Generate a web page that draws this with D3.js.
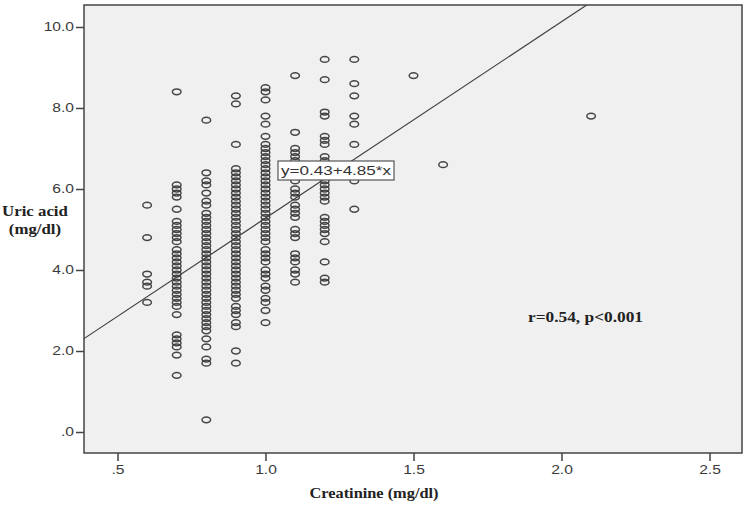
<!DOCTYPE html>
<html>
<head>
<meta charset="utf-8">
<script src="https://cdn.jsdelivr.net/npm/d3@7"></script>
<style>
  html, body { margin: 0; padding: 0; background: #ffffff; }
  svg { display: block; }
</style>
</head>
<body>
<svg id="chart" width="750" height="514"></svg>
<script>
// ---- data ----
const creatinineLevels = [0.6, 0.7, 0.8, 0.9, 1.0, 1.1, 1.2, 1.3, 1.5, 1.6, 2.1];
const uricAcid06 = [5.6, 4.8, 3.9, 3.7, 3.6, 3.2];
const uricAcid07 = [8.4, 6.1, 6.0, 5.9, 5.8, 5.5, 5.2, 5.1, 5.0, 4.9, 4.8, 4.7, 4.5, 4.4, 4.3, 4.2, 4.1, 4.0, 3.9, 3.8, 3.7, 3.6, 3.5, 3.4, 3.3, 3.2, 3.1, 2.9, 2.4, 2.3, 2.2, 2.1, 1.9, 1.4];
const uricAcid08 = [7.7, 6.4, 6.2, 6.1, 5.9, 5.7, 5.6, 5.4, 5.3, 5.2, 5.1, 5.0, 4.9, 4.8, 4.7, 4.6, 4.5, 4.4, 4.3, 4.2, 4.1, 4.0, 3.9, 3.8, 3.7, 3.6, 3.5, 3.4, 3.3, 3.2, 3.1, 3.0, 2.9, 2.8, 2.7, 2.6, 2.5, 2.3, 2.1, 1.8, 1.7, 0.3];
const uricAcid09 = [8.3, 8.1, 7.1, 6.5, 6.4, 6.3, 6.2, 6.1, 6.0, 5.9, 5.8, 5.7, 5.6, 5.5, 5.4, 5.3, 5.2, 5.1, 5.0, 4.9, 4.8, 4.7, 4.6, 4.5, 4.4, 4.3, 4.2, 4.1, 4.0, 3.9, 3.8, 3.7, 3.6, 3.5, 3.4, 3.3, 3.1, 3.0, 2.9, 2.7, 2.6, 2.0, 1.7];
const uricAcid10 = [8.5, 8.4, 8.2, 7.8, 7.6, 7.3, 7.1, 7.0, 6.9, 6.8, 6.7, 6.6, 6.5, 6.4, 6.3, 6.2, 6.1, 6.0, 5.9, 5.8, 5.7, 5.6, 5.5, 5.4, 5.3, 5.2, 5.1, 5.0, 4.9, 4.8, 4.7, 4.5, 4.4, 4.3, 4.2, 4.0, 3.9, 3.8, 3.6, 3.5, 3.3, 3.2, 3.0, 2.7];
const uricAcid11 = [8.8, 7.4, 7.0, 6.9, 6.8, 6.7, 6.6, 6.5, 6.2, 6.0, 5.9, 5.8, 5.6, 5.5, 5.4, 5.3, 5.0, 4.9, 4.8, 4.4, 4.3, 4.2, 4.0, 3.9, 3.7];
const uricAcid12 = [9.2, 8.7, 7.9, 7.8, 7.3, 7.2, 7.1, 6.8, 6.7, 6.6, 6.2, 6.1, 6.0, 5.9, 5.8, 5.7, 5.3, 5.2, 5.1, 5.0, 4.9, 4.7, 4.2, 3.8, 3.7];
const uricAcid13 = [9.2, 8.6, 8.3, 7.8, 7.6, 7.1, 6.4, 6.2, 5.5];
const uricAcid15 = [8.8];
const uricAcid16 = [6.6];
const uricAcid21 = [7.8];
const uricAcidByLevel = [uricAcid06, uricAcid07, uricAcid08, uricAcid09, uricAcid10, uricAcid11, uricAcid12, uricAcid13, uricAcid15, uricAcid16, uricAcid21];

const xTickValues = [0.5, 1.0, 1.5, 2.0, 2.5];
const yTickValues = [0, 2, 4, 6, 8, 10];
const fitIntercept = 0.43;
const fitSlope = 4.85;
const fitLabel = "y=0.43+4.85*x";
const statLabel = "r=0.54, p<0.001";
const xTitle = "Creatinine (mg/dl)";
const yTitleLines = ["Uric acid", "(mg/dl)"];

// ---- build points ----
const points = [];
creatinineLevels.forEach((c, i) => {
  uricAcidByLevel[i].forEach(u => points.push({ x: c, y: u }));
});

// ---- layout ----
const svg = d3.select("#chart");
const plot = { left: 84, right: 742, top: 5, bottom: 453 };

const x = d3.scaleLinear().domain([0.3868, 2.6098]).range([plot.left, plot.right]);
const y = d3.scaleLinear().domain([-0.5185, 10.543]).range([plot.bottom, plot.top]);

const fmt = v => {
  const s = d3.format(".1f")(v);
  return s.startsWith("0") ? s.slice(1) : s;
};

// horizontally stretch a text selection (the reference image is stretched horizontally)
function stretch(sel, factor) {
  sel.each(function() {
    const w = this.getComputedTextLength();
    d3.select(this).attr("textLength", w * factor).attr("lengthAdjust", "spacingAndGlyphs");
  });
}

// plot background
svg.append("rect")
  .attr("x", plot.left).attr("y", plot.top)
  .attr("width", plot.right - plot.left).attr("height", plot.bottom - plot.top)
  .attr("fill", "#f0f0f0");

// clip
svg.append("defs").append("clipPath").attr("id", "clip")
  .append("rect")
  .attr("x", plot.left).attr("y", plot.top)
  .attr("width", plot.right - plot.left).attr("height", plot.bottom - plot.top);

const g = svg.append("g").attr("clip-path", "url(#clip)");

// points
g.selectAll("ellipse.pt").data(points).join("ellipse")
  .attr("class", "pt")
  .attr("cx", d => x(d.x))
  .attr("cy", d => y(d.y))
  .attr("rx", 4.3)
  .attr("ry", 2.9)
  .attr("fill", "none")
  .attr("stroke", "#333")
  .attr("stroke-opacity", 0.9)
  .attr("stroke-width", 1.5);

// fit line
const xd = x.domain();
const yTop = y.domain()[1];
const xEnd = Math.min(xd[1], (yTop - fitIntercept) / fitSlope);
g.append("line")
  .attr("x1", x(xd[0])).attr("y1", y(fitIntercept + fitSlope * xd[0]))
  .attr("x2", x(xEnd)).attr("y2", y(fitIntercept + fitSlope * xEnd))
  .attr("stroke", "#404040")
  .attr("stroke-width", 1.2);

// fit label box
const lblX = 278, lblY = 161;
const lblG = svg.append("g");
const lblText = lblG.append("text")
  .attr("x", lblX + 3).attr("y", lblY + 14)
  .attr("font-family", "Liberation Sans, Arial, sans-serif")
  .attr("font-size", 13.5)
  .attr("fill", "#333")
  .text(fitLabel);
lblText.attr("textLength", 110).attr("lengthAdjust", "spacingAndGlyphs");
lblG.insert("rect", "text")
  .attr("x", lblX).attr("y", lblY)
  .attr("width", 116).attr("height", 19)
  .attr("fill", "#ffffff")
  .attr("stroke", "#555")
  .attr("stroke-width", 1.2);

// frame
svg.append("rect")
  .attr("x", plot.left).attr("y", plot.top)
  .attr("width", plot.right - plot.left).attr("height", plot.bottom - plot.top)
  .attr("fill", "none")
  .attr("stroke", "#444")
  .attr("stroke-width", 1.5);

// axes
const yAxis = d3.axisLeft(y).tickValues(yTickValues).tickFormat(fmt).tickSize(8).tickSizeOuter(0).tickPadding(2);
const yg = svg.append("g").attr("transform", `translate(${plot.left},0)`).call(yAxis);
yg.select(".domain").remove();

const xAxis = d3.axisBottom(x).tickValues(xTickValues).tickFormat(fmt).tickSize(8).tickSizeOuter(0).tickPadding(4);
const xg = svg.append("g").attr("transform", `translate(0,${plot.bottom})`).call(xAxis);
xg.select(".domain").remove();

[yg, xg].forEach(a => {
  a.selectAll(".tick line").attr("stroke", "#444").attr("stroke-width", 1.5);
  a.selectAll(".tick text")
    .attr("font-family", "Liberation Sans, Arial, sans-serif")
    .attr("font-size", 12)
    .attr("fill", "#3a3a3a");
  stretch(a.selectAll(".tick text"), 1.3);
});

// titles
svg.append("text")
  .attr("x", 374).attr("y", 498)
  .attr("text-anchor", "middle")
  .attr("font-family", "Liberation Serif, Times New Roman, serif")
  .attr("font-weight", "bold")
  .attr("font-size", 15)
  .attr("fill", "#222")
  .attr("textLength", 129).attr("lengthAdjust", "spacingAndGlyphs")
  .text(xTitle);

const yTitle = svg.append("text")
  .attr("x", 35).attr("y", 216)
  .attr("text-anchor", "middle")
  .attr("font-family", "Liberation Serif, Times New Roman, serif")
  .attr("font-weight", "bold")
  .attr("font-size", 15)
  .attr("fill", "#222");
yTitle.selectAll("tspan").data(yTitleLines).join("tspan")
  .attr("x", 35)
  .attr("y", (d, i) => 216 + i * 18)
  .text(d => d);
stretch(yTitle.selectAll("tspan"), 1.12);

svg.append("text")
  .attr("x", 528).attr("y", 322)
  .attr("font-family", "Liberation Serif, Times New Roman, serif")
  .attr("font-weight", "bold")
  .attr("font-size", 15)
  .attr("fill", "#222")
  .attr("textLength", 115).attr("lengthAdjust", "spacingAndGlyphs")
  .text(statLabel);
</script>
</body>
</html>
